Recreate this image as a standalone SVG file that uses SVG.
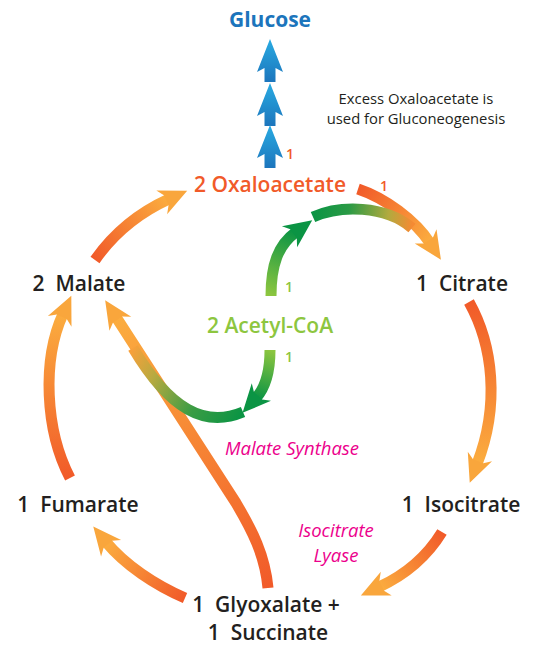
<svg xmlns="http://www.w3.org/2000/svg" width="540" height="650" viewBox="0 0 540 650">
<style>
text{font-family:"Open Sans","Liberation Sans",sans-serif;white-space:pre}
.node{font-size:21px;font-weight:600;fill:#231f20;text-anchor:middle}
.num{font-size:14px;font-weight:600}
.enz{font-size:18.5px;font-style:italic;fill:#ec008c;text-anchor:middle}
.note{font-size:14.8px;fill:#231f20;text-anchor:middle}
.arr{fill:none;stroke-width:11;stroke-linecap:butt}
</style>
<defs>
<linearGradient id="gBlue" x1="0" y1="0" x2="0" y2="1"><stop offset="0" stop-color="#29abe2"/><stop offset="1" stop-color="#1c75bc"/></linearGradient>
<linearGradient id="gA1" gradientUnits="userSpaceOnUse" x1="95" y1="260" x2="169" y2="199"><stop offset="0" stop-color="#f15a29"/><stop offset="1" stop-color="#fbad3f"/></linearGradient>
<linearGradient id="gA2" gradientUnits="userSpaceOnUse" x1="358" y1="189" x2="430" y2="243"><stop offset="0" stop-color="#f15a29"/><stop offset="1" stop-color="#fbad3f"/></linearGradient>
<linearGradient id="gA3" gradientUnits="userSpaceOnUse" x1="469" y1="302" x2="477" y2="464"><stop offset="0" stop-color="#f15a29"/><stop offset="1" stop-color="#fbad3f"/></linearGradient>
<linearGradient id="gA4" gradientUnits="userSpaceOnUse" x1="442" y1="532" x2="379" y2="587"><stop offset="0" stop-color="#f15a29"/><stop offset="1" stop-color="#fbad3f"/></linearGradient>
<linearGradient id="gA5" gradientUnits="userSpaceOnUse" x1="185" y1="598" x2="106" y2="542"><stop offset="0" stop-color="#f15a29"/><stop offset="1" stop-color="#fbad3f"/></linearGradient>
<linearGradient id="gA6" gradientUnits="userSpaceOnUse" x1="70" y1="478" x2="63" y2="314"><stop offset="0" stop-color="#f15a29"/><stop offset="1" stop-color="#fbad3f"/></linearGradient>
<linearGradient id="gA7" gradientUnits="userSpaceOnUse" x1="268" y1="588" x2="116" y2="317"><stop offset="0" stop-color="#f15a29"/><stop offset="1" stop-color="#fbad3f"/></linearGradient>
<linearGradient id="gG1" gradientUnits="userSpaceOnUse" x1="271" y1="296" x2="296" y2="232"><stop offset="0" stop-color="#8dc63f"/><stop offset="1" stop-color="#0b9444"/></linearGradient>
<linearGradient id="gG2" gradientUnits="userSpaceOnUse" x1="270" y1="350" x2="256" y2="398"><stop offset="0" stop-color="#8dc63f"/><stop offset="1" stop-color="#0b9444"/></linearGradient>
<linearGradient id="gGU" gradientUnits="userSpaceOnUse" x1="313" y1="217" x2="412" y2="228"><stop offset="0" stop-color="#0b9444"/><stop offset="0.35" stop-color="#2a9a45"/><stop offset="0.75" stop-color="#b2aa3e"/><stop offset="1" stop-color="#f58a33"/></linearGradient>
<linearGradient id="gGL" gradientUnits="userSpaceOnUse" x1="243" y1="412" x2="133" y2="348"><stop offset="0" stop-color="#0b9444"/><stop offset="0.35" stop-color="#3a9c44"/><stop offset="0.75" stop-color="#b8aa40"/><stop offset="1" stop-color="#f7a03b"/></linearGradient>
<marker id="hO" markerUnits="userSpaceOnUse" markerWidth="40" markerHeight="40" refX="0" refY="0" orient="auto" overflow="visible"><path d="M20,0 L-8,-13 L-3,-5.5 L-3,5.5 L-8,13 Z" fill="#f9a63c"/></marker>
<marker id="hG" markerUnits="userSpaceOnUse" markerWidth="40" markerHeight="40" refX="0" refY="0" orient="auto" overflow="visible"><path d="M20,0 L-8,-13 L-3,-5.5 L-3,5.5 L-8,13 Z" fill="#0b9444"/></marker>
</defs>

<g id="connectors">
<g id="glucose-arrows" fill="url(#gBlue)">
<polygon points="270,39 283,72 275.5,68 275.5,82 264.5,82 264.5,68 257,72"/>
<polygon points="270,83 283,116 275.5,112 275.5,126 264.5,126 264.5,112 257,116"/>
<polygon points="270,125 283,158 275.5,154 275.5,168 264.5,168 264.5,154 257,158"/>
</g>
<path class="arr" stroke="url(#gA1)" marker-end="url(#hO)" d="M95,260 Q123,220 169,199"/>
<path class="arr" stroke="url(#gA2)" marker-end="url(#hO)" d="M358,189 C385,198 415,220 430,243"/>
<path class="arr" stroke="url(#gA3)" marker-end="url(#hO)" d="M469,302 C493,345 500,405 477,464"/>
<path class="arr" stroke="url(#gA4)" marker-end="url(#hO)" d="M442,532 Q420,568 379,587"/>
<path class="arr" stroke="url(#gA5)" marker-end="url(#hO)" d="M185,598 C155,585 125,565 106,542"/>
<path class="arr" stroke="url(#gA6)" marker-end="url(#hO)" d="M70,478 C45,430 42,360 63,314"/>
<path class="arr" stroke="url(#gA7)" stroke-width="10" marker-end="url(#hO)" d="M268,588 C265,555 252,530 236,503 L116,317"/>
<path class="arr" stroke="url(#gG1)" marker-end="url(#hG)" d="M271,296 C271,265 278,245 296,232"/>
<path class="arr" stroke="url(#gG2)" marker-end="url(#hG)" d="M270,350 C270,372 266,387 256,398"/>
<path class="arr" stroke="url(#gGU)" d="M313,217 C340,205 385,205 412,228"/>
<path class="arr" stroke="url(#gGL)" d="M243,412 C205,428 170,410 133,348"/>
</g>

<g id="glucose"><text x="270" y="27" style="font-size:21px;font-weight:700;fill:#1c75bc;text-anchor:middle">Glucose</text></g>
<g id="note"><text class="note" x="416" y="104">Excess Oxaloacetate is</text><text class="note" x="416" y="124">used for Gluconeogenesis</text></g>
<g id="oxaloacetate"><text x="270" y="192" style="font-size:21px;font-weight:600;fill:#f15a29;text-anchor:middle">2 Oxaloacetate</text></g>
<g id="num-labels">
<text class="num" x="286" y="159" fill="#f15a29">1</text>
<text class="num" x="380" y="191" fill="#f15a29">1</text>
<text class="num" x="285" y="292" fill="#8dc63f">1</text>
<text class="num" x="285" y="362" fill="#8dc63f">1</text>
</g>
<g id="malate"><text class="node" x="79" y="291">2  Malate</text></g>
<g id="citrate"><text class="node" x="462" y="291">1  Citrate</text></g>
<g id="acetyl-coa"><text x="270" y="333" style="font-size:21px;font-weight:600;fill:#8dc63f;text-anchor:middle">2 Acetyl-CoA</text></g>
<g id="malate-synthase"><text class="enz" x="292" y="455">Malate Synthase</text></g>
<g id="fumarate"><text class="node" x="78" y="512">1  Fumarate</text></g>
<g id="isocitrate"><text class="node" x="461" y="512">1  Isocitrate</text></g>
<g id="isocitrate-lyase"><text class="enz" x="336" y="537">Isocitrate</text><text class="enz" x="336" y="562">Lyase</text></g>
<g id="glyoxalate-succinate"><text class="node" x="266" y="612">1  Glyoxalate +</text><text class="node" x="268" y="640">1  Succinate</text></g>
</svg>
